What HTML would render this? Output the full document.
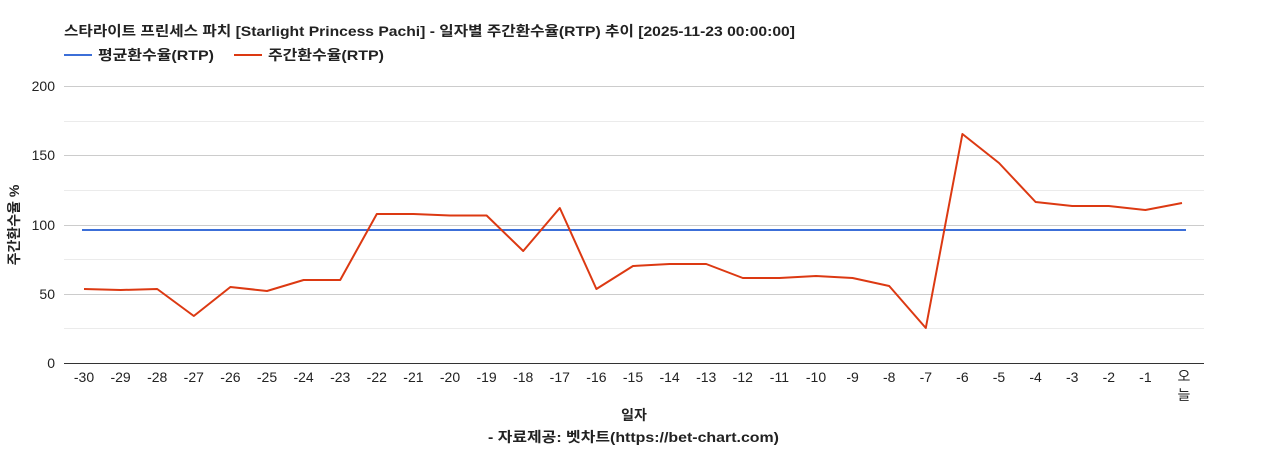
<!DOCTYPE html>
<html><head><meta charset="utf-8"><style>
body{margin:0;background:#fff;width:1268px;height:450px;overflow:hidden}
text{font-family:"Liberation Sans","Noto Sans CJK KR",sans-serif}
</style></head><body>
<svg width="1268" height="450" xmlns="http://www.w3.org/2000/svg">
<text x="64" y="36" font-size="14" font-weight="bold" fill="#222" textLength="731" lengthAdjust="spacingAndGlyphs">스타라이트 프린세스 파치 [Starlight Princess Pachi] - 일자별 주간환수율(RTP) 추이 [2025-11-23 00:00:00]</text>
<line x1="64" y1="55" x2="92" y2="55" stroke="#3c6fd8" stroke-width="2"/>
<text x="98" y="60" font-size="14" font-weight="bold" fill="#222" textLength="116" lengthAdjust="spacingAndGlyphs">평균환수율(RTP)</text>
<line x1="234" y1="55" x2="262" y2="55" stroke="#dc3912" stroke-width="2"/>
<text x="268" y="60" font-size="14" font-weight="bold" fill="#222" textLength="116" lengthAdjust="spacingAndGlyphs">주간환수율(RTP)</text>
<g stroke="#ebebeb" stroke-width="1">
<line x1="64" x2="1204" y1="121.5" y2="121.5"/><line x1="64" x2="1204" y1="190.5" y2="190.5"/><line x1="64" x2="1204" y1="259.5" y2="259.5"/><line x1="64" x2="1204" y1="328.5" y2="328.5"/>
</g>
<g stroke="#cccccc" stroke-width="1">
<line x1="64" x2="1204" y1="86.5" y2="86.5"/><line x1="64" x2="1204" y1="155.5" y2="155.5"/><line x1="64" x2="1204" y1="225.5" y2="225.5"/><line x1="64" x2="1204" y1="294.5" y2="294.5"/>
</g>
<line x1="64" x2="1204" y1="363.5" y2="363.5" stroke="#333"/>
<g font-size="14" fill="#222" text-anchor="end">
<text x="55" y="91">200</text><text x="55" y="160">150</text><text x="55" y="230">100</text><text x="55" y="299">50</text><text x="55" y="368">0</text>
</g>
<text transform="translate(19,225) rotate(-90)" font-size="14" font-weight="bold" fill="#222" text-anchor="middle">주간환수율 %</text>
<line x1="82" x2="1186" y1="230" y2="230" stroke="#3c6fd8" stroke-width="2"/>
<polyline fill="none" stroke="#dc3912" stroke-width="2" stroke-linejoin="round" points="84,289 120.6,290 157.2,289 193.8,316 230.4,287 267,291 303.6,280 340.2,280 376.8,214 413.4,214 450,215.5 486.6,215.5 523.2,251 559.8,208 596.4,289 633,266 669.6,264 706.2,264 742.8,278 779.4,278 816,276 852.6,278 889.2,286 925.8,328 962.4,134 999,163 1035.6,202 1072.2,206 1108.8,206 1145.4,210 1182,203"/>
<g font-size="14" fill="#222" text-anchor="middle">
<text x="84" y="382">-30</text><text x="120.6" y="382">-29</text><text x="157.2" y="382">-28</text><text x="193.8" y="382">-27</text><text x="230.4" y="382">-26</text><text x="267" y="382">-25</text><text x="303.6" y="382">-24</text><text x="340.2" y="382">-23</text><text x="376.8" y="382">-22</text><text x="413.4" y="382">-21</text><text x="450" y="382">-20</text><text x="486.6" y="382">-19</text><text x="523.2" y="382">-18</text><text x="559.8" y="382">-17</text><text x="596.4" y="382">-16</text><text x="633" y="382">-15</text><text x="669.6" y="382">-14</text><text x="706.2" y="382">-13</text><text x="742.8" y="382">-12</text><text x="779.4" y="382">-11</text><text x="816" y="382">-10</text><text x="852.6" y="382">-9</text><text x="889.2" y="382">-8</text><text x="925.8" y="382">-7</text><text x="962.4" y="382">-6</text><text x="999" y="382">-5</text><text x="1035.6" y="382">-4</text><text x="1072.2" y="382">-3</text><text x="1108.8" y="382">-2</text><text x="1145.4" y="382">-1</text><text x="1184" y="381">오</text><text x="1184" y="400">늘</text>
</g>
<text x="634" y="420" font-size="14" font-weight="bold" fill="#222" text-anchor="middle">일자</text>
<text x="488" y="442" font-size="14" font-weight="bold" fill="#222" textLength="291" lengthAdjust="spacingAndGlyphs">- 자료제공: 벳차트(https://bet-chart.com)</text>
</svg>
</body></html>
